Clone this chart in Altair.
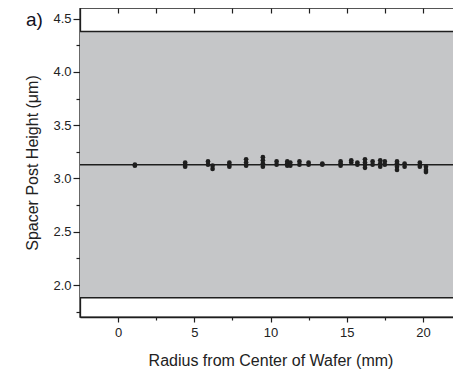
import altair as alt
import pandas as pd

# ---- data ----
radius = [1.1, 1.1,
          4.4, 4.4, 4.4,
          5.9, 5.9,
          6.2, 6.2,
          7.3, 7.3, 7.3,
          8.4, 8.4, 8.4,
          9.5, 9.5, 9.5, 9.5,
          10.4, 10.4,
          11.1, 11.1, 11.1,
          11.3, 11.3,
          11.9, 11.9,
          12.5, 12.5,
          13.4, 13.4,
          14.6, 14.6, 14.6,
          15.3, 15.3,
          15.7, 15.7,
          16.2, 16.2, 16.2, 16.2,
          16.7, 16.7,
          17.2, 17.2, 17.2,
          17.5, 17.5,
          18.3, 18.3, 18.3, 18.3,
          18.8, 18.8,
          19.8, 19.8, 19.8,
          20.2, 20.2, 20.2]
height = [3.12, 3.13,
          3.11, 3.13, 3.15,
          3.13, 3.16,
          3.09, 3.12,
          3.11, 3.13, 3.15,
          3.12, 3.15, 3.18,
          3.11, 3.14, 3.17, 3.20,
          3.13, 3.16,
          3.12, 3.14, 3.16,
          3.12, 3.15,
          3.13, 3.16,
          3.13, 3.15,
          3.13, 3.14,
          3.12, 3.14, 3.16,
          3.15, 3.17,
          3.13, 3.15,
          3.10, 3.13, 3.15, 3.18,
          3.13, 3.16,
          3.11, 3.14, 3.17,
          3.13, 3.16,
          3.08, 3.11, 3.14, 3.16,
          3.11, 3.14,
          3.11, 3.13, 3.15,
          3.06, 3.08, 3.11]

mean_line = [3.13]
band_low = [1.88]
band_high = [4.38]
x_ticks = [0, 2.5, 5, 7.5, 10, 12.5, 15, 17.5, 20]
y_ticks = [1.75, 2.0, 2.25, 2.5, 2.75, 3.0, 3.25, 3.5, 3.75, 4.0, 4.25, 4.5]
x_domain = [-2.5, 22.5]
y_domain = [1.7, 4.6]

W, H = 381, 309
FONT = "Liberation Sans"
INK = "#1e1e1e"

pts = pd.DataFrame({"r": radius, "h": height})
band = pd.DataFrame({"lo": band_low, "hi": band_high})
lines = pd.DataFrame({"y": band_low + mean_line + band_high})

xs = alt.Scale(domain=x_domain, nice=False, zero=False)
ys = alt.Scale(domain=y_domain, nice=False, zero=False)

band_layer = alt.Chart(band).mark_rect(color="#c5c6c8").encode(
    y=alt.Y("lo:Q", scale=ys, axis=None),
    y2="hi:Q",
    x=alt.value(0),
    x2=alt.value(W),
)

rule_layer = alt.Chart(lines).mark_rule(color=INK, strokeWidth=1.5).encode(
    y=alt.Y("y:Q", scale=ys, axis=None)
)

main_x_axis = alt.Axis(
    orient="bottom", values=x_ticks, grid=False, title="Radius from Center of Wafer (mm)",
    labelExpr="datum.value % 5 == 0 ? format(datum.value, 'd') : ''",
    tickSize={"condition": {"test": "datum.value % 5 == 0", "value": 5}, "value": 3},
    labelPadding=4, titlePadding=13, labelAngle=0,
)
main_y_axis = alt.Axis(
    orient="left", values=y_ticks, grid=False, title="Spacer Post Height (μm)",
    labelExpr="datum.value % 0.5 == 0 ? format(datum.value, '.1f') : ''",
    tickSize={"condition": {"test": "datum.value % 0.5 == 0", "value": 7}, "value": 4},
    labelPadding=2, titlePadding=12,
)

point_layer = alt.Chart(pts).mark_circle(size=22, color=INK, opacity=1).encode(
    x=alt.X("r:Q", scale=xs, axis=main_x_axis),
    y=alt.Y("h:Q", scale=ys, axis=main_y_axis),
)

mirror_layer = alt.Chart(pts).mark_circle(opacity=0).encode(
    x=alt.X("r:Q", scale=xs, axis=alt.Axis(orient="top", values=x_ticks, grid=False, labels=False,
                                           domain=False, title=None, tickSize=5, offset=-5)),
    y=alt.Y("h:Q", scale=ys, axis=alt.Axis(orient="right", values=y_ticks, grid=False, labels=False,
                                           domain=False, title=None, tickSize=5, offset=-5)),
)

label_layer = alt.Chart(pd.DataFrame({"t": ["a)"]})).mark_text(
    font="Liberation Sans", fontSize=19, color="#111122", align="left", baseline="alphabetic"
).encode(text="t:N", x=alt.value(-54), y=alt.value(17.5))

chart = alt.layer(
    band_layer, rule_layer, point_layer, mirror_layer, label_layer
).resolve_axis(x="independent", y="independent").properties(
    width=W, height=H,
    background="white",
    autosize=alt.AutoSizeParams(type="none"),
    padding={"left": 72, "top": 0, "right": -8, "bottom": 53},
).configure_view(
    stroke=INK, strokeWidth=1.4
).configure_axis(
    domainColor=INK, domainWidth=1.3, tickColor=INK, tickWidth=1.2,
    labelFont=FONT, labelFontSize=13, labelColor="#222222",
    titleFont=FONT, titleFontSize=16, titleFontWeight="normal", titleColor="#222222",
)

chart.save("out.html", embed_options={"renderer": "svg", "actions": False})
